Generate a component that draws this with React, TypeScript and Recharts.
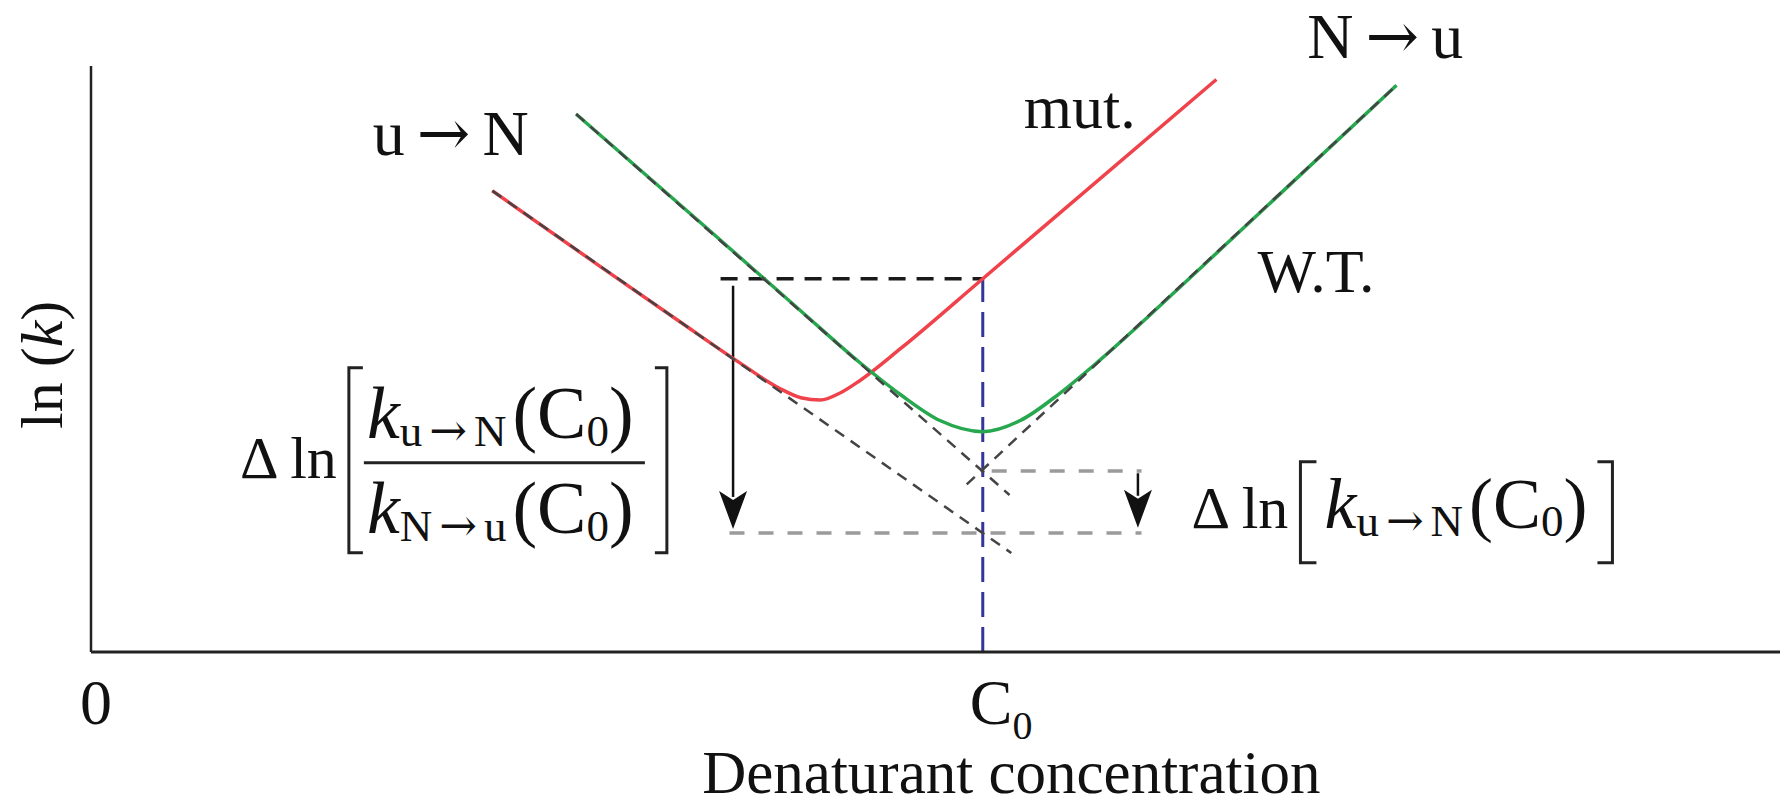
import React from "react";
import { ComposedChart, Line, XAxis, YAxis, ReferenceLine, ReferenceDot } from "recharts";

const serif = '"Liberation Serif", "DejaVu Serif", "Times New Roman", serif';
const arrowFont = '"DejaVu Serif", "DejaVu Sans", serif';

// chevron curves (x = denaturant, y = ln k)
const mutCurve = [
  { x: 2.25, y: 7.87 },
  { x: 2.85, y: 6.59 },
  { x: 3.3, y: 5.64 },
  { x: 3.64, y: 4.93 },
  { x: 3.86, y: 4.5 },
  { x: 3.98, y: 4.34 },
  { x: 4.09, y: 4.3 },
  { x: 4.2, y: 4.42 },
  { x: 4.31, y: 4.63 },
  { x: 4.54, y: 5.18 },
  { x: 5.0, y: 6.37 },
  { x: 6.31, y: 9.77 },
];

const wtCurve = [
  { x: 2.72, y: 9.18 },
  { x: 3.42, y: 7.32 },
  { x: 3.98, y: 5.82 },
  { x: 4.31, y: 4.94 },
  { x: 4.54, y: 4.39 },
  { x: 4.76, y: 3.95 },
  { x: 5.0, y: 3.76 },
  { x: 5.21, y: 3.95 },
  { x: 5.43, y: 4.41 },
  { x: 5.66, y: 4.99 },
  { x: 6.22, y: 6.55 },
  { x: 7.32, y: 9.67 },
];

// linear arms (dashed)
const mutFoldArm = [
  { x: 2.25, y: 7.87 },
  { x: 5.16, y: 1.69 },
];
const wtFoldArm = [
  { x: 2.72, y: 9.18 },
  { x: 5.15, y: 2.68 },
];
const wtUnfoldArm = [
  { x: 4.91, y: 2.86 },
  { x: 7.32, y: 9.67 },
];

const xTicks = [0, 5];
const C0 = 5;
const mutAtC0 = 6.37;
const wtCrossAtC0 = 3.09;
const mutFoldAtC0 = 2.03;

function Tick({ x, y, payload }: any) {
  if (payload.value === 0) {
    return (
      <text x={x + 5} y={y + 70} fontSize={64} fontFamily={serif} textAnchor="middle" fill="#111">
        0
      </text>
    );
  }
  return (
    <text x={x - 13} y={y + 70} fontSize={64} fontFamily={serif} fill="#111">
      C<tspan fontSize={40} dy={15}>0</tspan>
    </text>
  );
}

function DownArrow(props: any) {
  const { x1, y1, x2, y2 } = props;
  const len = 38;
  const half = 14;
  return (
    <g>
      <line x1={x1} y1={y1} x2={x2} y2={y2 - len + 6} stroke="#111" strokeWidth={2.5} />
      <path
        d={`M${x2},${y2} L${x2 - half},${y2 - len} L${x2},${y2 - len + 9} L${x2 + half},${y2 - len} Z`}
        fill="#111"
      />
    </g>
  );
}

const note = (draw: (cx: number, cy: number) => React.ReactNode) => (p: any) => <g>{draw(p.cx, p.cy)}</g>;

const Arrow = ({ size }: { size?: number }) => (
  <tspan fontFamily={arrowFont} fontSize={size} dx={12}>
    →
  </tspan>
);

function Rate({ x, y, from, to, size }: { x: number; y: number; from: string; to: string; size: number }) {
  return (
    <text x={x} y={y} fontSize={size} fontFamily={serif} fill="#111">
      <tspan fontStyle="italic">k</tspan>
      <tspan fontSize={45} dy={8}>
        {from}
      </tspan>
      <tspan fontFamily={arrowFont} fontSize={45} dx={7}>
        →
      </tspan>
      <tspan fontSize={45} dx={7}>
        {to}
      </tspan>
      <tspan dy={-8} dx={6}>
        (C
      </tspan>
      <tspan fontSize={45} dy={8}>
        0
      </tspan>
      <tspan dy={-8}>)</tspan>
    </text>
  );
}

function Ratio(cx: number, cy: number) {
  return (
    <g>
      <text x={cx - 124} y={cy + 15} fontSize={60} fontFamily={serif} fill="#111">
        Δ ln
      </text>
      <path d={`M${cx - 1},${cy - 95} H${cx - 15} V${cy + 90} H${cx - 1}`} fill="none" stroke="#222" strokeWidth={3} />
      <line x1={cx} y1={cy} x2={cx + 281} y2={cy} stroke="#222" strokeWidth={3} />
      <path d={`M${cx + 291},${cy - 95} H${cx + 303} V${cy + 90} H${cx + 291}`} fill="none" stroke="#222" strokeWidth={3} />
      <Rate x={cx + 3} y={cy - 25} from="u" to="N" size={74} />
      <Rate x={cx + 3} y={cy + 70} from="N" to="u" size={74} />
    </g>
  );
}

function Single(cx: number, cy: number) {
  return (
    <g>
      <text x={cx} y={cy} fontSize={60} fontFamily={serif} fill="#111">
        Δ ln
      </text>
      <path d={`M${cx + 125},${cy - 66} H${cx + 109} V${cy + 35} H${cx + 125}`} fill="none" stroke="#222" strokeWidth={3} />
      <Rate x={cx + 133} y={cy} from="u" to="N" size={72} />
      <path d={`M${cx + 406},${cy - 66} H${cx + 421} V${cy + 35} H${cx + 406}`} fill="none" stroke="#222" strokeWidth={3} />
    </g>
  );
}

export default function App() {
  const lbl = { fontFamily: serif, fill: "#111" };
  return (
    <div style={{ position: "absolute", left: 0, top: 0, background: "#fff" }}>
      <ComposedChart width={1787} height={805} margin={{ top: 66, right: 7, bottom: 0, left: 91 }}>
        <XAxis
          type="number"
          dataKey="x"
          domain={[0, 9.47]}
          ticks={xTicks}
          interval={0}
          tick={<Tick />}
          tickLine={false}
          tickSize={0}
          height={153}
          allowDataOverflow
          axisLine={{ stroke: "#222", strokeWidth: 3 }}
        />
        <YAxis type="number" domain={[0, 10]} width={0} hide allowDataOverflow />
        <ReferenceLine segment={[{ x: 0, y: 0 }, { x: 0, y: 10 }]} stroke="#222" strokeWidth={2.5} />

        <ReferenceLine segment={[{ x: C0, y: 0 }, { x: C0, y: mutAtC0 }]} stroke="#34349a" strokeWidth={3} strokeDasharray="25 10" />
        <ReferenceLine segment={[{ x: 3.53, y: mutAtC0 }, { x: C0, y: mutAtC0 }]} stroke="#1a1a1a" strokeWidth={3.5} strokeDasharray="17 11" />
        <ReferenceLine segment={[{ x: 3.58, y: mutFoldAtC0 }, { x: 5.89, y: mutFoldAtC0 }]} stroke="#9b9b9b" strokeWidth={3.5} strokeDasharray="15 14" />
        <ReferenceLine segment={[{ x: 5.05, y: wtCrossAtC0 }, { x: 5.89, y: wtCrossAtC0 }]} stroke="#9b9b9b" strokeWidth={3.5} strokeDasharray="15 14" />
        <ReferenceLine segment={[{ x: 3.6, y: 6.25 }, { x: 3.6, y: 2.1 }]} shape={DownArrow} />
        <ReferenceLine segment={[{ x: 5.87, y: 3.05 }, { x: 5.87, y: 2.12 }]} shape={DownArrow} />

        <Line data={mutCurve} dataKey="y" type="monotone" stroke="#f0424a" strokeWidth={3.5} dot={false} activeDot={false} isAnimationActive={false} />
        <Line data={wtCurve} dataKey="y" type="monotone" stroke="#27a84f" strokeWidth={3.5} dot={false} activeDot={false} isAnimationActive={false} />
        <Line data={mutFoldArm} dataKey="y" type="linear" stroke="#444" strokeWidth={2.5} strokeDasharray="11 8" dot={false} activeDot={false} isAnimationActive={false} />
        <Line data={wtFoldArm} dataKey="y" type="linear" stroke="#444" strokeWidth={2.5} strokeDasharray="11 8" dot={false} activeDot={false} isAnimationActive={false} />
        <Line data={wtUnfoldArm} dataKey="y" type="linear" stroke="#444" strokeWidth={2.5} strokeDasharray="11 8" dot={false} activeDot={false} isAnimationActive={false} />

        <ReferenceDot
          x={1.58}
          y={8.48}
          r={0}
          ifOverflow="visible"
          shape={note((cx, cy) => (
            <text x={cx} y={cy} fontSize={64} {...lbl}>
              u<Arrow size={64} />
              <tspan dx={12}>N</tspan>
            </text>
          ))}
        />
        <ReferenceDot
          x={6.82}
          y={10.14}
          r={0}
          ifOverflow="visible"
          shape={note((cx, cy) => (
            <text x={cx} y={cy} fontSize={64} {...lbl}>
              N<Arrow size={64} />
              <tspan dx={12}>u</tspan>
            </text>
          ))}
        />
        <ReferenceDot x={5.23} y={8.94} r={0} ifOverflow="visible" shape={note((cx, cy) => <text x={cx} y={cy} fontSize={62} {...lbl}>mut.</text>)} />
        <ReferenceDot x={6.54} y={6.14} r={0} ifOverflow="visible" shape={note((cx, cy) => <text x={cx} y={cy} fontSize={62} {...lbl}>W.T.</text>)} />
        <ReferenceDot x={1.53} y={3.23} r={0} ifOverflow="visible" shape={note(Ratio)} />
        <ReferenceDot x={6.17} y={2.12} r={0} ifOverflow="visible" shape={note(Single)} />
        <ReferenceDot
          x={-0.163}
          y={4.9}
          r={0}
          ifOverflow="visible"
          shape={note((cx, cy) => (
            <text x={cx} y={cy} fontSize={60} textAnchor="middle" transform={`rotate(-90 ${cx} ${cy})`} {...lbl}>
              ln (<tspan fontStyle="italic">k</tspan>)
            </text>
          ))}
        />
        <ReferenceDot
          x={5.16}
          y={-2.4}
          r={0}
          ifOverflow="visible"
          shape={note((cx, cy) => (
            <text x={cx} y={cy} fontSize={61} textAnchor="middle" {...lbl}>
              Denaturant concentration
            </text>
          ))}
        />
      </ComposedChart>
    </div>
  );
}
